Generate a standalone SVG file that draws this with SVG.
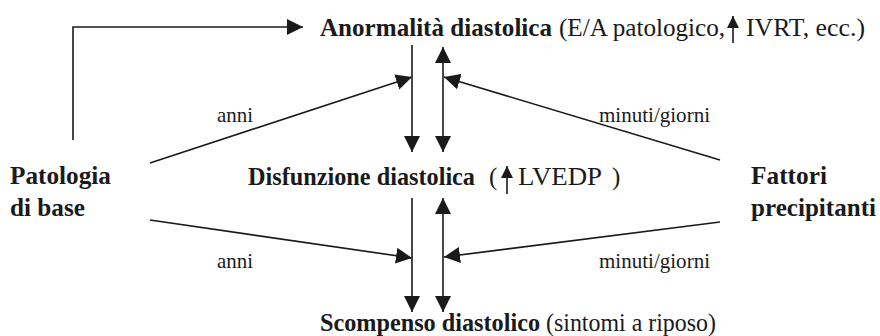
<svg xmlns="http://www.w3.org/2000/svg" width="880" height="336" viewBox="0 0 880 336" font-family="'Liberation Serif', 'Times New Roman', Times, Tinos, 'Noto Serif', 'DejaVu Serif', serif">
<style>
text{font-family:'Liberation Serif', 'Times New Roman', Times, Tinos, 'Noto Serif', 'DejaVu Serif', serif;fill:#1a1a1a}
.r{font-size:24px}
.t{font-size:25px}
.tb{font-size:25px;font-weight:bold}
.s{font-size:21px}
.c{stroke:#1a1a1a;stroke-width:1.6;fill:none}
</style>
<defs>
<marker id="ah" viewBox="0 0 16 16" refX="16" refY="8" markerWidth="16" markerHeight="16" markerUnits="userSpaceOnUse" orient="auto-start-reverse">
<path d="M0,0 L16,8 L0,16 Z" fill="#1a1a1a"/>
</marker>
<marker id="sh" viewBox="0 0 12 12" refX="12" refY="6" markerWidth="12" markerHeight="12" markerUnits="userSpaceOnUse" orient="auto">
<path d="M0,0 L12,6 L0,12 Z" fill="#1a1a1a"/>
</marker>
</defs>
<g id="connectors">
<polyline class="c" points="73,140 73,27 303,27" marker-end="url(#ah)"/>
<line class="c" x1="412" y1="45" x2="412" y2="152" marker-end="url(#ah)"/>
<line class="c" x1="443" y1="47" x2="443" y2="152" marker-start="url(#ah)" marker-end="url(#ah)"/>
<line class="c" x1="150" y1="163" x2="412" y2="77" marker-end="url(#ah)"/>
<line class="c" x1="720" y1="160" x2="444" y2="77" marker-end="url(#ah)"/>
<line class="c" x1="412" y1="198" x2="412" y2="312" marker-end="url(#ah)"/>
<line class="c" x1="443" y1="198" x2="443" y2="312" marker-start="url(#ah)" marker-end="url(#ah)"/>
<line class="c" x1="150" y1="220" x2="412" y2="258" marker-end="url(#ah)"/>
<line class="c" x1="720" y1="222" x2="444" y2="257" marker-end="url(#ah)"/>
<text class="s" x="217" y="122" textLength="36" lengthAdjust="spacingAndGlyphs">anni</text>
<text class="s" x="599" y="122" textLength="111" lengthAdjust="spacingAndGlyphs">minuti/giorni</text>
<text class="s" x="217" y="268" textLength="36" lengthAdjust="spacingAndGlyphs">anni</text>
<text class="s" x="599" y="268" textLength="111" lengthAdjust="spacingAndGlyphs">minuti/giorni</text>
</g>
<g id="node-anormalita">
<text class="tb" x="320" y="36" textLength="232" lengthAdjust="spacingAndGlyphs">Anormalità diastolica</text>
<text class="t" x="559" y="36" textLength="166" lengthAdjust="spacingAndGlyphs">(E/A patologico,</text>
<line class="c" x1="733" y1="43" x2="733" y2="16" marker-end="url(#sh)"/>
<text class="t" x="746" y="36" textLength="119" lengthAdjust="spacingAndGlyphs">IVRT, ecc.)</text>
</g>
<g id="node-disfunzione">
<text class="tb" x="248" y="185" textLength="227" lengthAdjust="spacingAndGlyphs">Disfunzione diastolica</text>
<text class="t" x="489" y="185">(</text>
<line class="c" x1="507" y1="194" x2="507" y2="166" marker-end="url(#sh)"/>
<text class="t" x="518" y="185" textLength="84" lengthAdjust="spacingAndGlyphs">LVEDP</text>
<text class="t" x="612" y="185">)</text>
</g>
<g id="node-scompenso">
<text class="tb" x="320" y="331" textLength="220" lengthAdjust="spacingAndGlyphs">Scompenso diastolico</text>
<text class="t" x="546" y="331" textLength="170" lengthAdjust="spacingAndGlyphs">(sintomi a riposo)</text>
</g>
<g id="node-patologia">
<text class="tb" x="10" y="184" textLength="101" lengthAdjust="spacingAndGlyphs">Patologia</text>
<text class="tb" x="10" y="216" textLength="75" lengthAdjust="spacingAndGlyphs">di base</text>
</g>
<g id="node-fattori">
<text class="tb" x="751" y="184" textLength="76" lengthAdjust="spacingAndGlyphs">Fattori</text>
<text class="tb" x="751" y="216" textLength="125" lengthAdjust="spacingAndGlyphs">precipitanti</text>
</g>
</svg>
